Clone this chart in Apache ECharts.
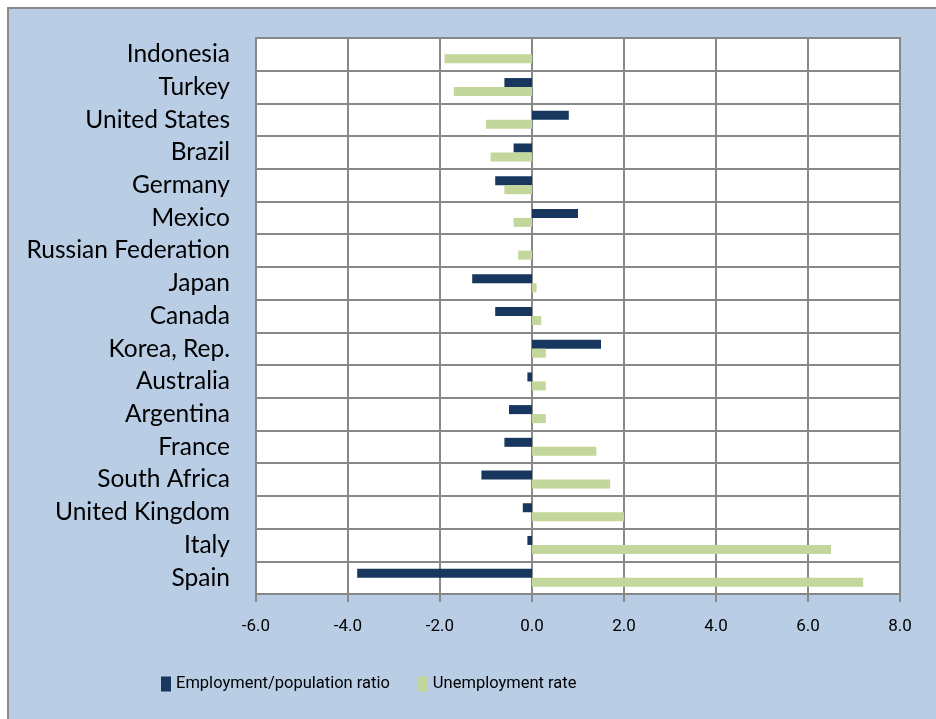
<!DOCTYPE html>
<html>
<head>
<meta charset="utf-8">
<script src="https://cdn.jsdelivr.net/npm/echarts@6/dist/echarts.min.js"></script>
<style>
html,body{margin:0;padding:0;background:#fff;width:936px;height:719px;overflow:hidden;}
#bg{position:absolute;left:7px;top:7px;width:940px;height:730px;background:#B9CDE5;border:2px solid #8a8a8a;box-sizing:border-box;}
#chart{position:absolute;left:0;top:0;width:936px;height:719px;}
</style>
</head>
<body>
<div id="bg"></div>
<div id="chart"></div>
<script>
const categories = ['Indonesia','Turkey','United States','Brazil','Germany','Mexico','Russian Federation','Japan','Canada','Korea, Rep.','Australia','Argentina','France','South Africa','United Kingdom','Italy','Spain'];
const employment = [0, -0.6, 0.8, -0.4, -0.8, 1.0, 0, -1.3, -0.8, 1.5, -0.1, -0.5, -0.6, -1.1, -0.2, -0.1, -3.8];
const unemployment = [-1.9, -1.7, -1.0, -0.9, -0.6, -0.4, -0.3, 0.1, 0.2, 0.3, 0.3, 0.3, 1.4, 1.7, 2.0, 6.5, 7.2];
const seriesNames = ['Employment/population ratio', 'Unemployment rate'];
const xMin = -6, xMax = 8, xStep = 2;

const grey = '#888888';
const catFont = 'Lato, "Open Sans", sans-serif';
const narrowFont = 'Roboto, "Liberation Sans", sans-serif';

const chart = echarts.init(document.getElementById('chart'), null, {renderer: 'canvas'});
chart.setOption({
  backgroundColor: 'transparent',
  animation: false,
  grid: {left: 256, right: 36, top: 38, bottom: 125, show: true, backgroundColor: '#ffffff', borderColor: grey, borderWidth: 2},
  legend: {
    data: seriesNames, left: 156, top: 670, padding: 5, icon: 'rect', itemWidth: 10, itemHeight: 15, itemGap: 28,
    textStyle: {fontFamily: narrowFont, fontSize: 16.5, color: '#000', lineHeight: 18}
  },
  xAxis: {
    type: 'value', min: xMin, max: xMax, interval: xStep,
    axisLine: {show: true, lineStyle: {color: grey, width: 2}},
    axisTick: {show: true, length: 8, lineStyle: {color: grey, width: 2}},
    axisLabel: {margin: 24, fontFamily: narrowFont, fontSize: 17, color: '#000', formatter: v => v.toFixed(1)},
    splitLine: {show: true, lineStyle: {color: grey, width: 2}}
  },
  yAxis: [
    {
      type: 'category', data: categories, inverse: true, position: 'left',
      axisLine: {show: false, onZero: false}, axisTick: {show: false},
      axisLabel: {margin: 26, fontFamily: catFont, fontSize: 24.5, color: '#000'},
      splitLine: {show: true, interval: 0, lineStyle: {color: grey, width: 2}}
    },
    {
      type: 'category', data: categories, inverse: true, position: 'left',
      axisLine: {show: true, onZero: true, lineStyle: {color: grey, width: 2}},
      axisTick: {show: true, interval: 0, length: 8, lineStyle: {color: grey, width: 1.5}},
      axisLabel: {show: false}, splitLine: {show: false}
    }
  ],
  series: [
    {name: seriesNames[0], type: 'bar', yAxisIndex: 0, data: employment, barWidth: 9, barGap: '0%', itemStyle: {color: '#17375E'}},
    {name: seriesNames[1], type: 'bar', yAxisIndex: 0, data: unemployment, barWidth: 9, barGap: '0%', itemStyle: {color: '#C3D69B'}}
  ]
});
</script>
</body>
</html>
